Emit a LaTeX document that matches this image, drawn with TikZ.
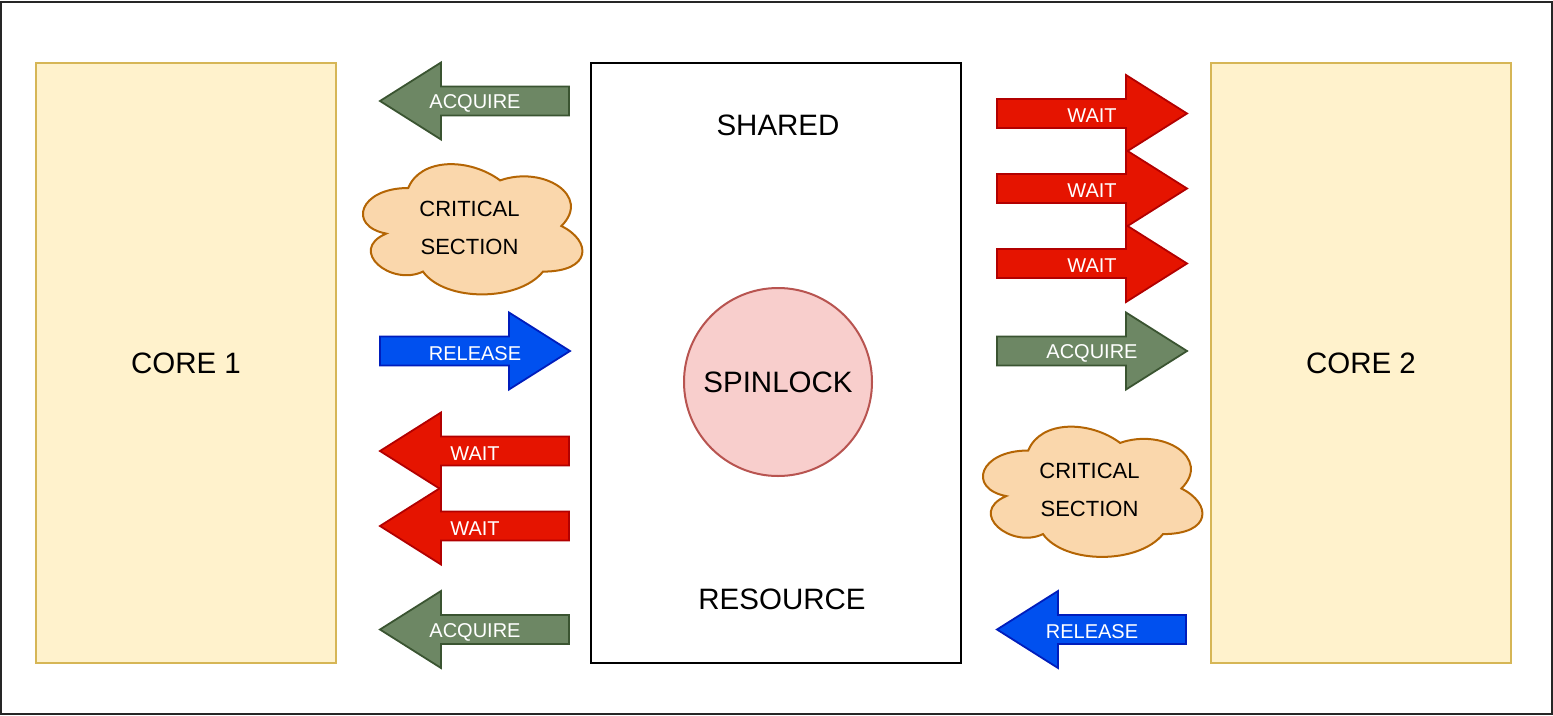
\documentclass[tikz,border=0pt]{standalone}
\usepackage{fontspec}
\setmainfont{Liberation Sans}
\definecolor{gfill}{HTML}{6D8764}\definecolor{gdraw}{HTML}{3A5431}
\definecolor{rfill}{HTML}{E51400}\definecolor{rdraw}{HTML}{B20000}
\definecolor{bfill}{HTML}{0050EF}\definecolor{bdraw}{HTML}{001DBC}
\definecolor{cfill}{HTML}{FAD7AC}\definecolor{cdraw}{HTML}{B46504}
\definecolor{kfill}{HTML}{FFF2CC}\definecolor{kdraw}{HTML}{D6B656}
\definecolor{sfill}{HTML}{F8CECC}\definecolor{sdraw}{HTML}{B85450}
\tikzset{
  greenarr/.style={fill=gfill,draw=gdraw,line width=1.8pt,line join=miter},
  redarr/.style={fill=rfill,draw=rdraw,line width=1.8pt,line join=miter},
  bluearr/.style={fill=bfill,draw=bdraw,line width=1.8pt,line join=miter},
  lbl/.style={text=white,font=\fontsize{20}{24}\selectfont,inner sep=0pt},
  corebox/.style={fill=kfill,draw=kdraw,line width=2pt,minimum width=300,minimum height=600,font=\fontsize{29.5}{35}\selectfont},
  cloudst/.style={fill=cfill,draw=cdraw,line width=2pt},
  cloudtxt/.style={font=\fontsize{22}{37.5}\selectfont,align=center,inner sep=0pt},
  bigtxt/.style={font=\fontsize{29.5}{35}\selectfont,inner sep=0pt}
}
% right-pointing arrow: name, tail x, centre y, style, text
\newcommand\arrR[5]{%
  \draw[#4] (#2,#3-14.5) -- (#2+129,#3-14.5) -- (#2+129,#3-38.5) -- (#2+190,#3)
    -- (#2+129,#3+38.5) -- (#2+129,#3+14.5) -- (#2,#3+14.5) -- cycle;
  \node[lbl] (#1) at (#2+95,#3+2.5) {#5};}
% left-pointing arrow: name, tip x, centre y, style, text
\newcommand\arrL[5]{%
  \draw[#4] (#2,#3) -- (#2+61,#3-38.5) -- (#2+61,#3-14.5) -- (#2+189,#3-14.5)
    -- (#2+189,#3+14.5) -- (#2+61,#3+14.5) -- (#2+61,#3+38.5) -- cycle;
  \node[lbl] (#1) at (#2+95,#3+2.5) {#5};}
\newcommand\drawcloud[2]{%
  \begin{scope}[shift={(#1,#2)},xscale=245,yscale=152]
  \draw[cloudst] (0.25,0.25) .. controls (0.05,0.25) and (0,0.5) .. (0.16,0.55)
    .. controls (0,0.66) and (0.18,0.9) .. (0.31,0.8)
    .. controls (0.4,1) and (0.7,1) .. (0.8,0.8)
    .. controls (1,0.8) and (1,0.6) .. (0.875,0.5)
    .. controls (1,0.3) and (0.8,0.1) .. (0.625,0.2)
    .. controls (0.5,0.05) and (0.3,0.05) .. (0.25,0.25) -- cycle;
  \end{scope}}
\begin{document}
\begin{tikzpicture}[x=1pt,y=-1pt]
\useasboundingbox (0,0) rectangle (1553,715);
\draw[line width=2pt,draw=black!85] (1,1.5) rectangle (1551.5,713.5);
% cores
\node[corebox] (core1) at (186,363) {CORE 1};
\node[corebox] (core2) at (1361,363) {CORE 2};
% shared resource
\node[draw=black,line width=2pt,fill=white,minimum width=370,minimum height=600] (res) at (776,363) {};
\node[bigtxt] (shared) at (778,125) {SHARED};
\node[bigtxt] (resource) at (782,599) {RESOURCE};
\node[circle,fill=sfill,draw=sdraw,line width=2pt,minimum size=188,inner sep=0pt,font=\fontsize{29.5}{35}\selectfont] (spin) at (778,382) {SPINLOCK};
% left side
\arrL{acq1}{380}{101}{greenarr}{ACQUIRE}
\drawcloud{347}{150}
\node[cloudtxt] (cs1) at (469.5,228) {CRITICAL\\SECTION};
\arrR{rel1}{380}{351}{bluearr}{RELEASE}
\arrL{waitL1}{380}{451}{redarr}{WAIT}
\arrL{waitL2}{380}{526}{redarr}{WAIT}
\arrL{acq1b}{380}{629.5}{greenarr}{ACQUIRE}
% right side
\arrR{waitR1}{997}{113.5}{redarr}{WAIT}
\arrR{waitR2}{997}{188.5}{redarr}{WAIT}
\arrR{waitR3}{997}{263.5}{redarr}{WAIT}
\arrR{acq2}{997}{351}{greenarr}{ACQUIRE}
\drawcloud{967}{412.5}
\node[cloudtxt] (cs2) at (1089.5,490) {CRITICAL\\SECTION};
\arrL{rel2}{997}{629.5}{bluearr}{RELEASE}
\end{tikzpicture}
\end{document}
